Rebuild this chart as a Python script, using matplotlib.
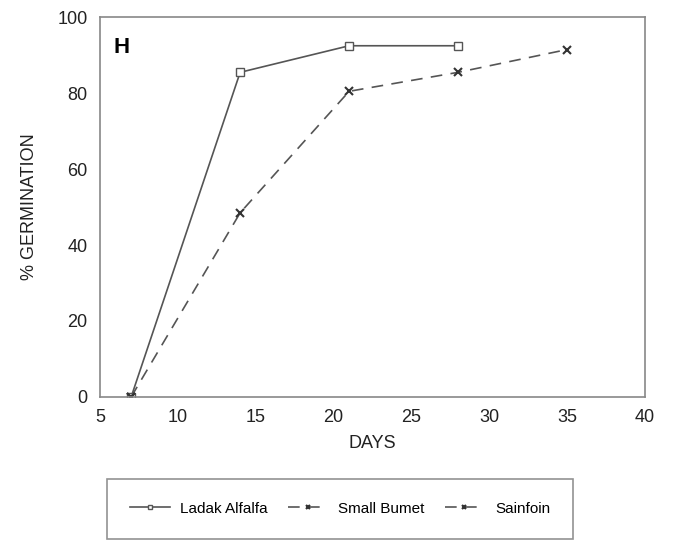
import matplotlib
matplotlib.use('Agg')
import matplotlib.pyplot as plt

days_alfalfa = [7, 14, 21, 28]
germ_alfalfa = [0, 85.5, 92.5, 92.5]
days_burnet = [7, 14, 21, 28, 35]
germ_burnet = [0, 48.5, 80.5, 85.5, 91.5]
days_sainfoin = [7]
germ_sainfoin = [0]

plt.rcParams['font.family'] = ['Liberation Sans', 'DejaVu Sans']

fig = plt.figure(figsize=(6.76, 5.4), dpi=100)
ax = fig.add_axes([0.148, 0.265, 0.806, 0.703])

line_col = '#555555'
ax.plot(days_alfalfa, germ_alfalfa, '-', color=line_col, lw=1.2,
        marker='s', mfc='white', mec=line_col, ms=5.5, label='Ladak Alfalfa')
ax.plot(days_burnet, germ_burnet, '--', color=line_col, lw=1.2, dashes=(7, 5),
        marker='x', mec='#333333', ms=6, mew=1.5, label='Small Bumet')
ax.plot(days_sainfoin, germ_sainfoin, '--', color=line_col, lw=1.2, dashes=(7, 5),
        marker='x', mec='#333333', ms=6, mew=1.5, label='Sainfoin')

ax.set_xlim(5, 40)
ax.set_ylim(0, 100)
ax.set_xticks([5, 10, 15, 20, 25, 30, 35, 40])
ax.set_yticks([0, 20, 40, 60, 80, 100])
ax.tick_params(length=0, labelsize=13, colors='#222222', pad=9)
for s in ax.spines.values():
    s.set_color('#888888')
    s.set_linewidth(1.2)

ax.set_xlabel('DAYS', fontsize=13, color='#222222', labelpad=6)
ax.set_ylabel('% GERMINATION', fontsize=13, color='#222222', labelpad=14)
ax.text(0.025, 0.92, 'H', transform=ax.transAxes, fontsize=16,
        fontweight='bold', va='center', ha='left')

leg = fig.legend(loc='center', bbox_to_anchor=(0.503, 0.058), ncol=3,
                 frameon=True, fancybox=False, fontsize=11,
                 handlelength=2.6, handletextpad=0.7, columnspacing=1.3,
                 markerscale=0.6, borderpad=1.5, borderaxespad=0)
leg.get_frame().set_edgecolor('#777777')
leg.get_frame().set_linewidth(1.2)

fig.savefig('out.png', dpi=100)
